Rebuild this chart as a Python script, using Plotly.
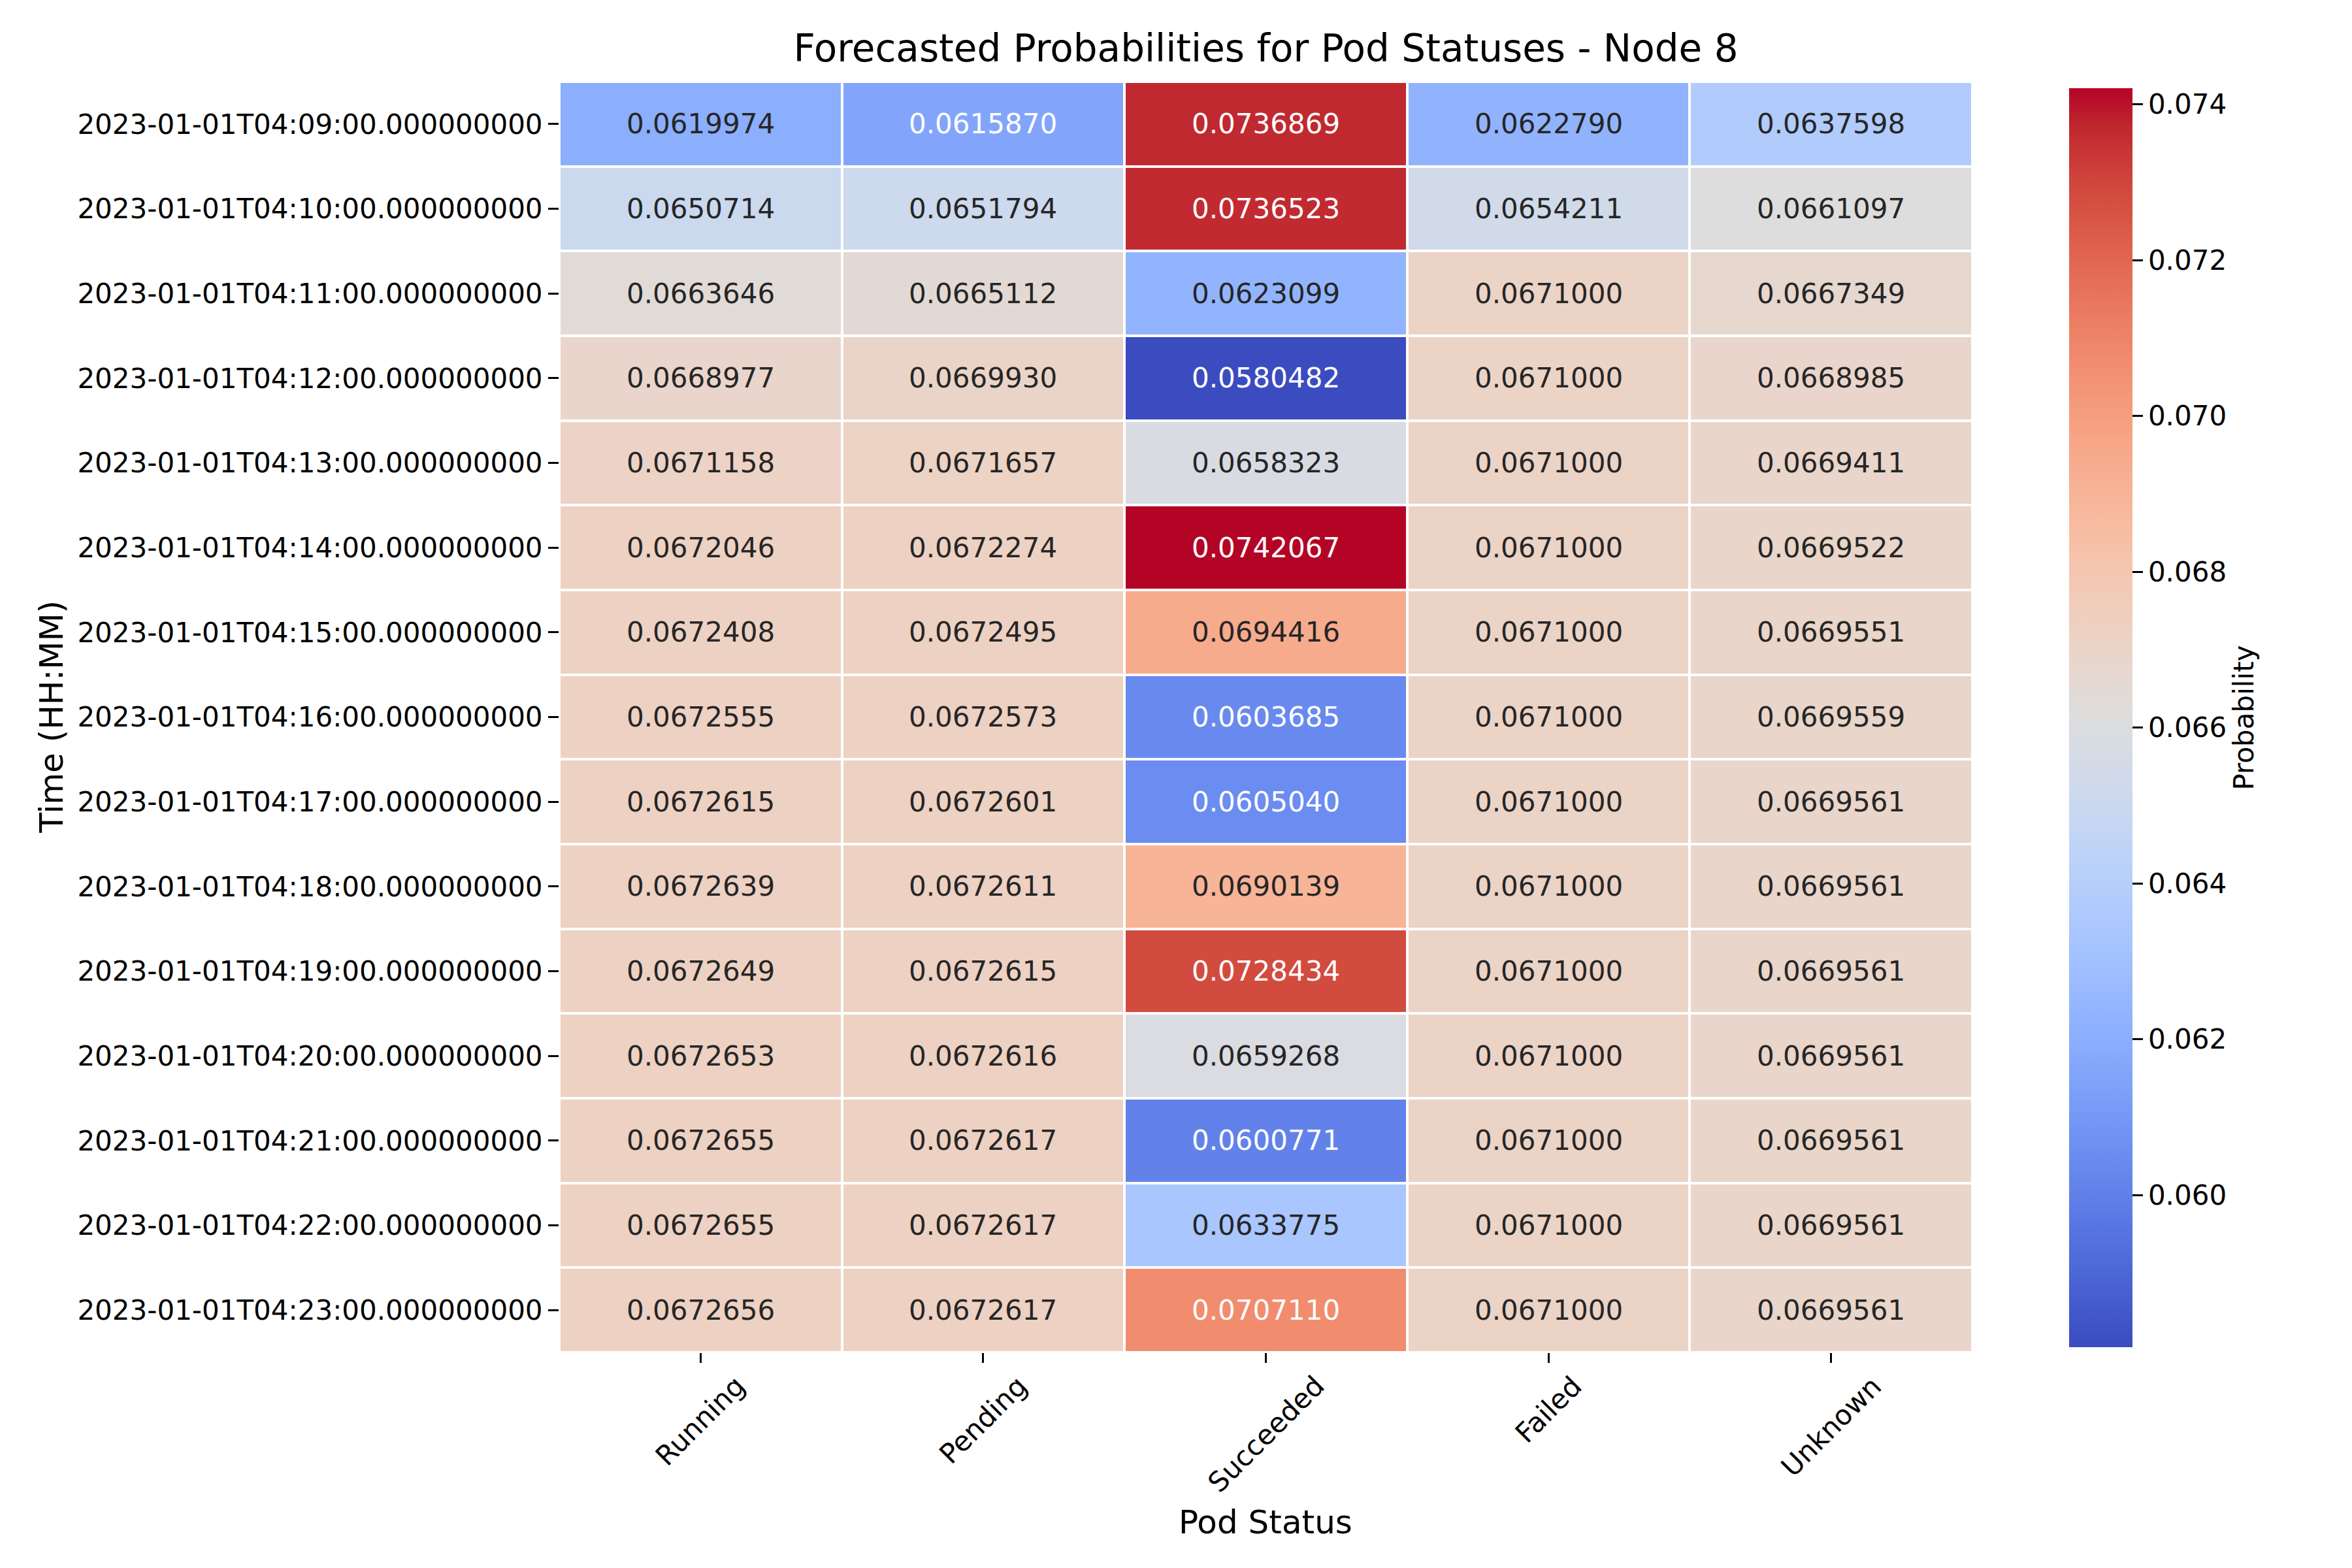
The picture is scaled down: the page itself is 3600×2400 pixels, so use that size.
import plotly.graph_objects as go

TIMES = [
    '2023-01-01T04:09:00.000000000', '2023-01-01T04:10:00.000000000',
    '2023-01-01T04:11:00.000000000', '2023-01-01T04:12:00.000000000',
    '2023-01-01T04:13:00.000000000', '2023-01-01T04:14:00.000000000',
    '2023-01-01T04:15:00.000000000', '2023-01-01T04:16:00.000000000',
    '2023-01-01T04:17:00.000000000', '2023-01-01T04:18:00.000000000',
    '2023-01-01T04:19:00.000000000', '2023-01-01T04:20:00.000000000',
    '2023-01-01T04:21:00.000000000', '2023-01-01T04:22:00.000000000',
    '2023-01-01T04:23:00.000000000',
]
STATUSES = ['Running', 'Pending', 'Succeeded', 'Failed', 'Unknown']

RUNNING = [0.0619974, 0.0650714, 0.0663646, 0.0668977, 0.0671158, 0.0672046, 0.0672408,
           0.0672555, 0.0672615, 0.0672639, 0.0672649, 0.0672653, 0.0672655, 0.0672655, 0.0672656]
PENDING = [0.0615870, 0.0651794, 0.0665112, 0.0669930, 0.0671657, 0.0672274, 0.0672495,
           0.0672573, 0.0672601, 0.0672611, 0.0672615, 0.0672616, 0.0672617, 0.0672617, 0.0672617]
SUCCEEDED = [0.0736869, 0.0736523, 0.0623099, 0.0580482, 0.0658323, 0.0742067, 0.0694416,
             0.0603685, 0.0605040, 0.0690139, 0.0728434, 0.0659268, 0.0600771, 0.0633775, 0.0707110]
FAILED = [0.0622790, 0.0654211, 0.0671000, 0.0671000, 0.0671000, 0.0671000, 0.0671000,
          0.0671000, 0.0671000, 0.0671000, 0.0671000, 0.0671000, 0.0671000, 0.0671000, 0.0671000]
UNKNOWN = [0.0637598, 0.0661097, 0.0667349, 0.0668985, 0.0669411, 0.0669522, 0.0669551,
           0.0669559, 0.0669561, 0.0669561, 0.0669561, 0.0669561, 0.0669561, 0.0669561, 0.0669561]

CB_TICKS = [0.060, 0.062, 0.064, 0.066, 0.068, 0.070, 0.072, 0.074]

# matplotlib coolwarm (Moreland table)
COOLWARM = [
    (59, 76, 192), (68, 90, 204), (77, 104, 215), (87, 117, 225), (98, 130, 234),
    (108, 142, 241), (119, 154, 247), (130, 165, 251), (141, 176, 254), (152, 185, 255),
    (163, 194, 255), (174, 201, 253), (184, 208, 249), (194, 213, 244), (204, 217, 238),
    (213, 219, 230), (221, 221, 221), (229, 216, 209), (236, 211, 197), (241, 204, 185),
    (245, 196, 173), (247, 187, 160), (247, 177, 148), (247, 166, 135), (244, 154, 123),
    (241, 141, 111), (236, 127, 99), (229, 112, 88), (222, 96, 77), (213, 80, 66),
    (203, 62, 56), (192, 40, 47), (180, 4, 38),
]
N = len(COOLWARM) - 1
COLORSCALE = [[i / N, 'rgb(%d,%d,%d)' % c] for i, c in enumerate(COOLWARM)]

FONT = 'DejaVu Sans'
W, H = 3600, 2400
# axes box in pixels (left, right, top, bottom)
AX_L, AX_R, AX_T, AX_B = 848, 3011, 117, 2062


def cmap(t):
    t = min(max(t, 0.0), 1.0) * N
    i = min(int(t), N - 1)
    f = t - i
    a, b = COOLWARM[i], COOLWARM[i + 1]
    return [(a[k] + (b[k] - a[k]) * f) / 255 for k in range(3)]


def luminance(rgb):
    lin = [c / 12.92 if c <= 0.03928 else ((c + 0.055) / 1.055) ** 2.4 for c in rgb]
    return 0.2126 * lin[0] + 0.7152 * lin[1] + 0.0722 * lin[2]


def build_figure():
    columns = [RUNNING, PENDING, SUCCEEDED, FAILED, UNKNOWN]
    z = [[col[r] for col in columns] for r in range(len(TIMES))]
    vmin = min(min(row) for row in z)
    vmax = max(max(row) for row in z)
    x_mid = (AX_L + AX_R) / 2 / W
    y_mid = 1 - (AX_T + AX_B) / 2 / H

    fig = go.Figure(go.Heatmap(
        z=z, x=STATUSES, y=TIMES, colorscale=COLORSCALE, zmin=vmin, zmax=vmax,
        xgap=4, ygap=4,
        colorbar=dict(
            x=3149 / W, xanchor='left', y=1 - 2064 / H, yanchor='bottom',
            len=(2064 - AX_T) / H, thickness=97, outlinewidth=0,
            tickvals=CB_TICKS, tickformat='.3f',
            ticks='outside', ticklen=16, tickwidth=3, tickcolor='black',
            tickfont=dict(family=FONT, size=42, color='black'),
            title=dict(text='Probability', side='right',
                       font=dict(family=FONT, size=42, color='black')),
        ),
    ))

    annotations = []
    for r, t in enumerate(TIMES):
        for c, s in enumerate(STATUSES):
            v = z[r][c]
            lum = luminance(cmap((v - vmin) / (vmax - vmin)))
            color = 'rgb(38,38,38)' if lum > 0.408 else 'white'
            annotations.append(dict(x=s, y=t, text='%.7f' % v, showarrow=False,
                                    font=dict(family=FONT, size=42, color=color)))
    for s in STATUSES:
        annotations.append(dict(x=s, xref='x', y=1 - 2086 / H, yref='paper', text=s,
                                textangle=-45, showarrow=False, xanchor='center',
                                yanchor='top',
                                font=dict(family=FONT, size=42, color='black')))
    annotations.append(dict(x=x_mid, xref='paper', y=1 - 2322 / H, yref='paper',
                            text='Pod Status', showarrow=False,
                            xanchor='center', yanchor='middle',
                            font=dict(family=FONT, size=50, color='black')))
    annotations.append(dict(x=70 / W, xref='paper', y=y_mid, yref='paper',
                            text='Time (HH:MM)', textangle=-90, showarrow=False,
                            xanchor='center', yanchor='middle',
                            font=dict(family=FONT, size=50, color='black')))

    fig.update_layout(
        width=W, height=H, margin=dict(l=0, r=0, t=0, b=0),
        paper_bgcolor='white', plot_bgcolor='white',
        title=dict(text='Forecasted Probabilities for Pod Statuses - Node 8',
                   x=x_mid, xanchor='center', y=1 - 66 / H, yanchor='middle',
                   font=dict(family=FONT, size=58, color='black')),
        xaxis=dict(type='category', domain=[AX_L / W, AX_R / W], showticklabels=False,
                   ticks='outside', ticklen=15, tickwidth=3, tickcolor='black',
                   showgrid=False, zeroline=False, showline=False),
        yaxis=dict(type='category', domain=[1 - AX_B / H, 1 - AX_T / H],
                   autorange='reversed',
                   ticks='outside', ticklen=16, tickwidth=3, tickcolor='black',
                   tickfont=dict(family=FONT, size=42, color='black'),
                   showgrid=False, zeroline=False, showline=False),
        annotations=annotations,
    )
    return fig


def main():
    fig = build_figure()
    fig.write_html('out.html')


if __name__ == '__main__':
    main()
